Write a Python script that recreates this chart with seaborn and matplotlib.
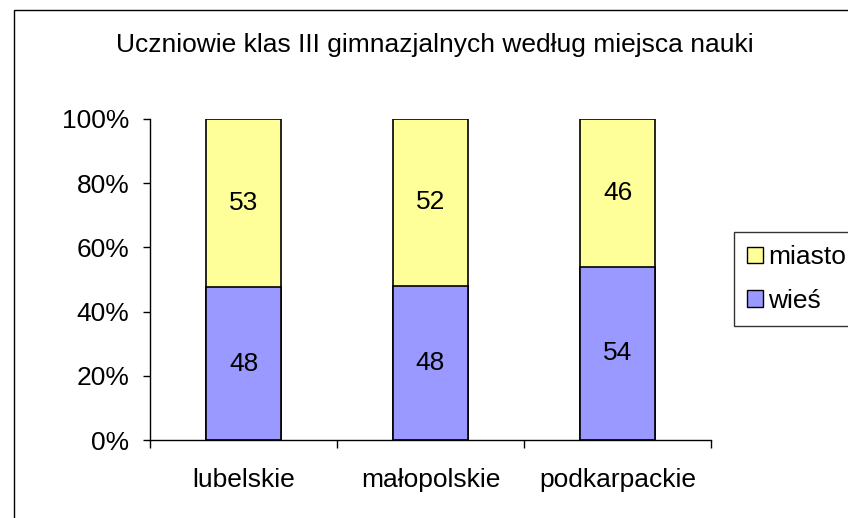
import matplotlib.pyplot as plt
import matplotlib.patches as mpatches
import pandas as pd
import seaborn as sns

sns.set_theme(style="white")
plt.rcParams['font.family'] = ['Liberation Sans', 'DejaVu Sans']
plt.rcParams['text.color'] = 'black'
plt.rcParams['xtick.color'] = 'black'
plt.rcParams['ytick.color'] = 'black'

# Dane
regiony = ['lubelskie', 'małopolskie', 'podkarpackie']
wies = [48, 48, 54]
miasto = [53, 52, 46]

df = pd.DataFrame({'Region': regiony, 'wieś': wies, 'miasto': miasto})
df['suma'] = df['wieś'] + df['miasto']
df['wies_pct'] = df['wieś'] / df['suma'] * 100
df['calosc'] = 100.0

FS = 19

fig = plt.figure(figsize=(8.48, 5.18), dpi=100)
ax = fig.add_axes([150 / 848, 78 / 518, 561 / 848, 321 / 518])

# Słupek 100% (miasto), potem wieś na wierzchu
sns.barplot(data=df, x='Region', y='calosc', color='#FFFF99', edgecolor='black',
            linewidth=1.2, width=0.4, saturation=1, ax=ax)
sns.barplot(data=df, x='Region', y='wies_pct', color='#9999FF', edgecolor='black',
            linewidth=1.2, width=0.4, saturation=1, ax=ax)

# Podpisy wartości
for i, row in df.iterrows():
    ax.text(i, row['wies_pct'] / 2, f"{row['wieś']}", ha='center', va='center', fontsize=FS)
    ax.text(i, (row['wies_pct'] + 100) / 2, f"{row['miasto']}", ha='center', va='center', fontsize=FS)

ax.set_xlim(-0.5, 2.5)
ax.set_ylim(0, 100)
ax.set_yticks(range(0, 101, 20))
ax.set_yticklabels([f'{v}%' for v in range(0, 101, 20)], fontsize=FS)
ax.set_xticks(range(3))
ax.set_xticklabels(regiony, fontsize=FS)
ax.tick_params(axis='x', length=0, pad=20)
ax.tick_params(axis='y', length=5, width=1, direction='out', left=True, pad=10)
ax.set_xticks([-0.5, 0.5, 1.5, 2.5], minor=True)
ax.tick_params(axis='x', which='minor', length=6, width=1, direction='out', bottom=True)
ax.set_xlabel('')
ax.set_ylabel('')
for s in ['top', 'right']:
    ax.spines[s].set_visible(False)
for s in ['left', 'bottom']:
    ax.spines[s].set_color('black')
    ax.spines[s].set_linewidth(1)

# Legenda
handles = [mpatches.Patch(facecolor='#FFFF99', edgecolor='black', label='miasto'),
           mpatches.Patch(facecolor='#9999FF', edgecolor='black', label='wieś')]
leg = fig.legend(handles=handles, loc='upper left', bbox_to_anchor=(734 / 848, 1 - 232 / 518),
                 fontsize=FS, frameon=True, fancybox=False, handlelength=0.6, handleheight=0.6,
                 handletextpad=0.2, borderpad=0.5, labelspacing=0.75, borderaxespad=0)
leg.get_frame().set_edgecolor('black')
leg.get_frame().set_linewidth(1)

fig.text(435 / 848, 1 - 45 / 518, 'Uczniowie klas III gimnazjalnych według miejsca nauki',
         ha='center', va='center', fontsize=FS)

# Ramka wykresu
fig.patches.append(mpatches.Rectangle((14 / 848, -0.1), 1.2, 1 - 10 / 518 + 0.1,
                                      transform=fig.transFigure, fill=False,
                                      edgecolor='black', linewidth=1))

fig.savefig('out.png', dpi=100)
